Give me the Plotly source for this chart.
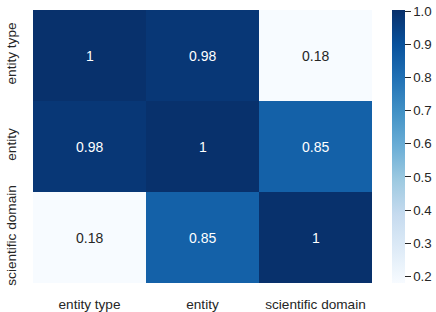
import plotly.graph_objects as go

labels = ["entity type", "entity", "scientific domain"]
values = [
    [1.0, 0.98, 0.18],
    [0.98, 1.0, 0.85],
    [0.18, 0.85, 1.0],
]
cell_text = [
    ["1", "0.98", "0.18"],
    ["0.98", "1", "0.85"],
    ["0.18", "0.85", "1"],
]
cbar_ticks = [0.2, 0.3, 0.4, 0.5, 0.6, 0.7, 0.8, 0.9, 1.0]

blues = ["#f7fbff", "#deebf7", "#c6dbef", "#9ecae1", "#6baed6",
         "#4292c6", "#2171b5", "#08519c", "#08306b"]
colorscale = [[i / (len(blues) - 1), c] for i, c in enumerate(blues)]

zmin, zmax = 0.18, 1.003
FONT = "Liberation Sans, Arial"
DARK = "#262626"

fig = go.Figure(go.Heatmap(
    z=values, x=labels, y=labels,
    colorscale=colorscale, zmin=zmin, zmax=zmax,
    showscale=True, hoverinfo="z",
    colorbar=dict(
        x=1.059, xanchor="left", y=0, yanchor="bottom", len=1, lenmode="fraction",
        thickness=13, outlinewidth=0, xpad=0, ypad=0,
        tickvals=cbar_ticks, ticktext=[f"{t:.1f}" for t in cbar_ticks],
        ticks="outside", ticklen=6, tickcolor=DARK,
        tickfont=dict(family=FONT, size=13.3, color=DARK),
    ),
))

annos = []
for i, row in enumerate(values):
    for j, v in enumerate(row):
        norm = (v - zmin) / (zmax - zmin)
        annos.append(dict(
            x=labels[j], y=labels[i], text=cell_text[i][j], showarrow=False,
            font=dict(family=FONT, size=14, color="white" if norm > 0.5 else DARK),
        ))

fig.update_layout(
    width=436, height=312,
    margin=dict(l=33, r=64, t=10, b=29, autoexpand=False),
    paper_bgcolor="white", plot_bgcolor="white",
    annotations=annos,
    font=dict(family=FONT, size=13.6, color=DARK),
)
fig.update_xaxes(showgrid=False, zeroline=False, showline=False, automargin=False,
                 ticks="outside", ticklen=9, tickcolor="rgba(0,0,0,0)",
                 tickfont=dict(family=FONT, size=13.6, color=DARK))
fig.update_yaxes(showgrid=False, zeroline=False, showline=False, automargin=False,
                 autorange="reversed", tickangle=-90,
                 ticks="outside", ticklen=11, tickcolor="rgba(0,0,0,0)",
                 tickfont=dict(family=FONT, size=13.6, color=DARK))

# remove the browser's default 8px body margin so the figure fills the window
fig.write_html("out.html", config={"displayModeBar": False},
               post_script="document.body.style.margin='0';")
